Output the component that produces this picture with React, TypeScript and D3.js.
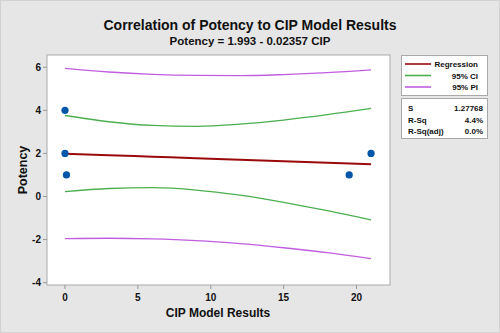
import React from "react";
import * as d3 from "d3";

const obsX = [0, 0, 0.1, 19.5, 21];
const obsY = [4, 2, 1, 1, 2];

const fitX = [0, 3, 6, 9, 12, 15, 18, 21];
const regression = [1.99, 1.92, 1.85, 1.78, 1.71, 1.64, 1.57, 1.5];
const ciUpper = [3.76, 3.47, 3.3, 3.26, 3.36, 3.55, 3.8, 4.09];
const ciLower = [0.23, 0.37, 0.41, 0.3, 0.06, -0.27, -0.66, -1.09];
const piUpper = [5.95, 5.78, 5.67, 5.62, 5.61, 5.66, 5.75, 5.88];
const piLower = [-1.96, -1.94, -1.97, -2.05, -2.19, -2.38, -2.61, -2.89];

const xTicks = [0, 5, 10, 15, 20];
const yTicks = [-4, -2, 0, 2, 4, 6];

const legendItems = ["Regression", "95% CI", "95% PI"];
const statLabels = ["S", "R-Sq", "R-Sq(adj)"];
const statValues = ["1.27768", "4.4%", "0.0%"];

const W = 500;
const H = 333;
const PL = 47, PT = 55, PR = 390, PB = 285;

const colors = { reg: "#9a0a0a", ci: "#4caf50", pi: "#c15ee0", dot: "#0056a8" };
const font = "Liberation Sans, Arial, sans-serif";

export default function App() {
  const x = d3.scaleLinear().domain([-1.235, 22.3]).range([PL, PR]);
  const y = d3.scaleLinear().domain([-4.11, 6.57]).range([PB, PT]);
  const line = (vals: number[]) =>
    d3
      .line<number>()
      .x((_, i) => x(fitX[i]))
      .y((v) => y(v))
      .curve(d3.curveMonotoneX)(vals) as string;

  const series = [
    { vals: piUpper, c: colors.pi },
    { vals: piLower, c: colors.pi },
    { vals: ciUpper, c: colors.ci },
    { vals: ciLower, c: colors.ci },
    { vals: regression, c: colors.reg, w: 2 },
  ];
  const legendColors = [colors.reg, colors.ci, colors.pi];

  return (
    <svg
      width={W}
      height={H}
      style={{ position: "absolute", left: 0, top: 0, display: "block" }}
      fontFamily={font}
    >
      <rect x={0} y={0} width={W} height={H} fill="#e6e6e6" />
      <rect x={0.5} y={0.5} width={W - 1} height={H - 1} fill="none" stroke="#d2d2d2" />
      <text x={250} y={29.5} textAnchor="middle" fontSize={14} fontWeight="bold" fill="#111">
        Correlation of Potency to CIP Model Results
      </text>
      <text x={250} y={44.5} textAnchor="middle" fontSize={11.5} fontWeight="bold" fill="#111">
        Potency = 1.993 - 0.02357 CIP
      </text>

      <rect x={PL} y={PT} width={PR - PL} height={PB - PT} fill="#fff" stroke="#a9a9a9" />

      {yTicks.map((t) => (
        <g key={"y" + t}>
          <line x1={PL - 4} x2={PL} y1={y(t)} y2={y(t)} stroke="#999" />
          <text x={PL - 6} y={y(t) + 3.5} textAnchor="end" fontSize={10} fontWeight="bold" fill="#111">
            {t}
          </text>
        </g>
      ))}
      {xTicks.map((t) => (
        <g key={"x" + t}>
          <line x1={x(t)} x2={x(t)} y1={PB} y2={PB + 4} stroke="#999" />
          <text x={x(t)} y={301} textAnchor="middle" fontSize={10} fontWeight="bold" fill="#111">
            {t}
          </text>
        </g>
      ))}
      <text x={218} y={316.5} textAnchor="middle" fontSize={12} fontWeight="bold" fill="#111">
        CIP Model Results
      </text>
      <text
        transform={`translate(27,${170}) rotate(-90)`}
        textAnchor="middle"
        fontSize={12.5}
        fontWeight="bold"
        fill="#111"
      >
        Potency
      </text>

      {series.map((s, i) => (
        <path key={i} d={line(s.vals)} fill="none" stroke={s.c} strokeWidth={s.w || 1.3} />
      ))}
      {obsX.map((v, i) => (
        <circle key={i} cx={x(v)} cy={y(obsY[i])} r={3.6} fill={colors.dot} />
      ))}

      <rect x={401.5} y={55.5} width={86} height={40} fill="#fff" stroke="#a9a9a9" />
      {legendItems.map((l, i) => (
        <g key={l}>
          <line x1={405} x2={431} y1={64 + i * 11.5} y2={64 + i * 11.5} stroke={legendColors[i]} strokeWidth={1.6} />
          <text x={478} y={67 + i * 11.5} textAnchor="end" fontSize={8} fontWeight="bold" fill="#111">
            {l}
          </text>
        </g>
      ))}
      <rect x={401.5} y={98.5} width={86} height={40} fill="#fff" stroke="#a9a9a9" />
      {statLabels.map((l, i) => (
        <g key={l}>
          <text x={408} y={111 + i * 11.5} fontSize={8} fontWeight="bold" fill="#111">
            {l}
          </text>
          <text x={483} y={111 + i * 11.5} textAnchor="end" fontSize={8} fontWeight="bold" fill="#111">
            {statValues[i]}
          </text>
        </g>
      ))}
    </svg>
  );
}
